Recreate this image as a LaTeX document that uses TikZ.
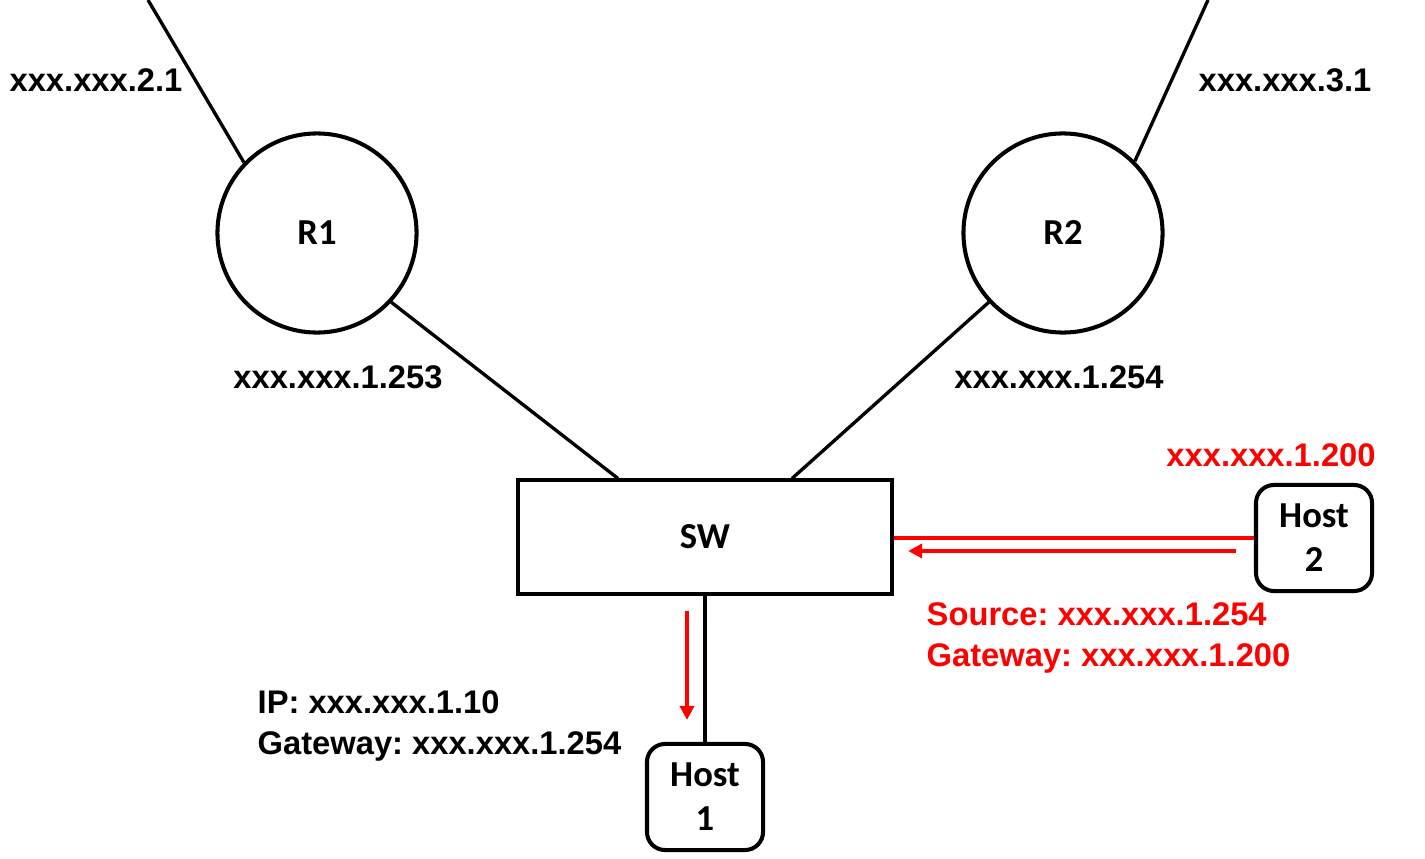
\documentclass[tikz,border=0pt]{standalone}
\usepackage{fontspec}
\newfontfamily\addrfont{Liberation Sans}
\newfontfamily\boxfont{Carlito}
\usetikzlibrary{calc,arrows.meta}
\frenchspacing

\begin{document}
\begin{tikzpicture}[x=0.01cm, y=-0.01cm,
  router/.style={circle, draw, line width=1.15pt, minimum size=1.99cm, inner sep=0pt, font=\boxfont\bfseries\fontsize{10.4}{12.5}\selectfont},
  switchbox/.style={rectangle, draw, line width=1.15pt, minimum width=3.74cm, minimum height=1.13cm, inner sep=0pt, font=\boxfont\bfseries\fontsize{10.4}{12.5}\selectfont},
  hostbox/.style={rectangle, draw, rounded corners=0.18cm, line width=1.15pt, minimum width=1.16cm, minimum height=1.06cm, inner sep=0pt, align=center, font=\boxfont\bfseries\fontsize{10.4}{12.5}\selectfont},
  addr/.style={inner sep=0pt, font=\addrfont\bfseries\fontsize{9.3}{11.4}\selectfont},
  link/.style={line width=0.95pt},
  redlink/.style={red, line width=1.05pt},
  redarrow/.style={red, line width=1.05pt, -{Triangle[length=4pt,width=4pt]}}]
\useasboundingbox (0,0) rectangle (1425,858);
% network nodes
\node[router] (r1) at (317,233) {R1}; \node[router] (r2) at (1063,233) {R2};
\node[switchbox] (sw) at (705,537) {SW};
\node[hostbox] (host1) at (705,797) {Host\\1}; \node[hostbox] (host2) at (1314,538) {Host\\2};
\coordinate (up1) at (148,0); \coordinate (up2) at (1208,0);
% links
\draw[link] (r1.136) -- (up1); \draw[link] (r2.45) -- (up2);
\draw[link] (r1.-43) -- ([xshift=-0.87cm]sw.north); \draw[link] (r2.-137) -- ([xshift=0.87cm]sw.north);
\draw[link] (sw.south) -- (host1.north);
\draw[redlink] (host2.west) -- (host2.west -| sw.east);
\draw[redarrow] ([shift={(-18,13)}]host2.west) -- ([shift={(14,13)}]host2.west -| sw.east);
\draw[redarrow] ([shift={(-18,15)}]sw.south) -- ([shift={(-18,-22)}]host1.north);
% addresses
\node[addr] (a21) at (96,80) {xxx.xxx.2.1}; \node[addr] (a31) at (1285,80) {xxx.xxx.3.1};
\node[addr] (a253) at (338,377) {xxx.xxx.1.253}; \node[addr] (a254) at (1059,377) {xxx.xxx.1.254};
\node[addr, red] (a200) at (1271,455) {xxx.xxx.1.200};
\node[addr, red, align=left, anchor=west] (gw2) at (926,638) {Source: xxx.xxx.1.254\\Gateway: xxx.xxx.1.200};
\node[addr, align=left, anchor=west] (gw1) at (257,726) {IP: xxx.xxx.1.10\\Gateway: xxx.xxx.1.254};
\end{tikzpicture}
\end{document}
